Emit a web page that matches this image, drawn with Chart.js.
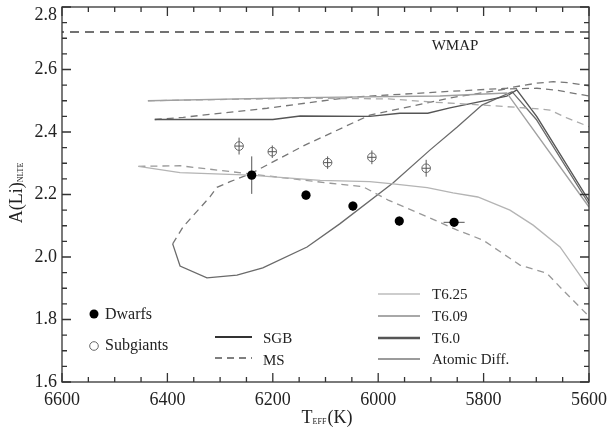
<!DOCTYPE html>
<html>
<head>
<meta charset="utf-8">
<script src="https://cdn.jsdelivr.net/npm/chart.js@4"></script>
<style>
  html, body { margin: 0; padding: 0; background: #fff; }
</style>
</head>
<body>
<canvas id="chart" width="607" height="429"></canvas>
<script>
// axis ranges and ticks
const xMin = 5600, xMax = 6600, xMajor = 200, xMinor = 50;
const yMin = 1.6, yMax = 2.8, yMajor = 0.2, yMinor = 0.05;

// WMAP primordial value
const wmapLevel = 2.72;

// observed stars
const dwarfT = [6240, 6137, 6048, 5960, 5856];
const dwarfA = [2.262, 2.198, 2.163, 2.115, 2.111];
const dwarfErrT = [0, 0, 0, 0, 20];
const dwarfErrA = [0.06, 0.015, 0.015, 0.015, 0];

const subT = [6264, 6201, 6096, 6012, 5909];
const subA = [2.355, 2.337, 2.302, 2.319, 2.284];
const subErrT = [8, 8, 8, 8, 8];
const subErrA = [0.027, 0.02, 0.02, 0.022, 0.027];

// models: SGB (solid) and MS (dashed)
const t625SgbT = [6455, 6376, 6243, 6110, 6016, 5972, 5907, 5858, 5811, 5750, 5706, 5655, 5600];
const t625SgbA = [2.290, 2.270, 2.262, 2.245, 2.241, 2.234, 2.222, 2.205, 2.192, 2.150, 2.102, 2.032, 1.900];
const t625MsT = [6455, 6376, 6243, 6091, 6029, 5981, 5902, 5850, 5801, 5731, 5680, 5650, 5600];
const t625MsA = [2.290, 2.292, 2.266, 2.236, 2.225, 2.182, 2.125, 2.086, 2.054, 1.974, 1.948, 1.895, 1.810];

const t609SgbT = [6437, 6148, 5883, 5756, 5600];
const t609SgbA = [2.500, 2.510, 2.515, 2.525, 2.160];
const t609MsT = [6437, 6148, 5980, 5900, 5800, 5756, 5693, 5674, 5642, 5600];
const t609MsA = [2.500, 2.508, 2.506, 2.496, 2.486, 2.481, 2.474, 2.470, 2.445, 2.417];

const t60SgbT = [6424, 6200, 6148, 6016, 5959, 5906, 5864, 5756, 5737, 5699, 5600];
const t60SgbA = [2.440, 2.440, 2.451, 2.450, 2.460, 2.460, 2.477, 2.515, 2.535, 2.449, 2.180];
const t60MsT = [6424, 6370, 6211, 6054, 5864, 5756, 5700, 5668, 5640, 5600];
const t60MsA = [2.440, 2.447, 2.476, 2.511, 2.530, 2.540, 2.556, 2.561, 2.558, 2.548];

const adSgbT = [6390, 6376, 6325, 6268, 6219, 6135, 6073, 5972, 5902, 5850, 5803, 5746, 5700, 5600];
const adSgbA = [2.042, 1.971, 1.933, 1.942, 1.965, 2.032, 2.106, 2.237, 2.342, 2.416, 2.486, 2.529, 2.440, 2.170];
const adMsT = [6390, 6370, 6319, 6306, 6281, 6243, 6139, 6016, 5940, 5864, 5756, 5699, 5662, 5600];
const adMsA = [2.042, 2.097, 2.193, 2.223, 2.241, 2.266, 2.358, 2.454, 2.481, 2.509, 2.538, 2.540, 2.534, 2.515];

const serif = '"Liberation Serif", "Times New Roman", serif';
const pts = (T, A) => T.map((t, i) => ({ x: t, y: A[i] }));

function modelLine(T, A, color, width, dashed) {
  return {
    data: pts(T, A), showLine: true, pointRadius: 0, borderColor: color,
    borderWidth: width, borderDash: dashed ? [7, 5] : [], fill: false, tension: 0
  };
}

// error bars, ticks, frame, legends and titles
function errBar(ctx, x, y, t, a, et, ea) {
  const px = x.getPixelForValue(t), py = y.getPixelForValue(a);
  ctx.beginPath();
  if (ea) { ctx.moveTo(px, y.getPixelForValue(a - ea)); ctx.lineTo(px, y.getPixelForValue(a + ea)); }
  if (et) { ctx.moveTo(x.getPixelForValue(t - et), py); ctx.lineTo(x.getPixelForValue(t + et), py); }
  ctx.stroke();
}

const decor = {
  id: 'decor',
  beforeDatasetsDraw(chart) {
    const { ctx, scales: { x, y } } = chart;
    ctx.save();
    ctx.strokeStyle = '#555';
    ctx.lineWidth = 1;
    dwarfT.forEach((t, i) => errBar(ctx, x, y, t, dwarfA[i], dwarfErrT[i], dwarfErrA[i]));
    subT.forEach((t, i) => errBar(ctx, x, y, t, subA[i], subErrT[i], subErrA[i]));
    ctx.restore();
  },
  afterDraw(chart) {
    const { ctx, chartArea: a, scales: { x, y } } = chart;
    ctx.save();
    // frame + inward ticks
    ctx.strokeStyle = '#333';
    ctx.lineWidth = 1.3;
    ctx.strokeRect(a.left, a.top, a.right - a.left, a.bottom - a.top);
    ctx.beginPath();
    const nx = Math.round((xMax - xMin) / xMinor);
    for (let i = 0; i <= nx; i++) {
      const v = xMin + i * xMinor;
      const len = (i % (xMajor / xMinor) === 0) ? 9 : 5;
      const px = x.getPixelForValue(v);
      ctx.moveTo(px, a.bottom); ctx.lineTo(px, a.bottom - len);
      ctx.moveTo(px, a.top); ctx.lineTo(px, a.top + len);
    }
    const ny = Math.round((yMax - yMin) / yMinor);
    for (let i = 0; i <= ny; i++) {
      const v = yMin + i * yMinor;
      const len = (i % Math.round(yMajor / yMinor) === 0) ? 9 : 5;
      const py = y.getPixelForValue(v);
      ctx.moveTo(a.left, py); ctx.lineTo(a.left + len, py);
      ctx.moveTo(a.right, py); ctx.lineTo(a.right - len, py);
    }
    ctx.stroke();

    ctx.fillStyle = '#222';
    ctx.textBaseline = 'middle';
    // WMAP label
    ctx.font = '15px ' + serif;
    ctx.textAlign = 'center';
    ctx.fillText('WMAP', 455, 46);
    ctx.textAlign = 'left';

    // star legend
    ctx.font = '16px ' + serif;
    ctx.beginPath(); ctx.arc(94, 314, 4.5, 0, Math.PI * 2); ctx.fillStyle = '#000'; ctx.fill();
    ctx.fillStyle = '#222';
    ctx.fillText('Dwarfs', 105, 315);
    ctx.beginPath(); ctx.arc(94, 346, 4.3, 0, Math.PI * 2);
    ctx.strokeStyle = '#666'; ctx.lineWidth = 1; ctx.stroke();
    ctx.fillText('Subgiants', 105, 346);

    // SGB / MS legend
    ctx.font = '15px ' + serif;
    ctx.strokeStyle = '#333'; ctx.lineWidth = 2;
    ctx.beginPath(); ctx.moveTo(215, 337); ctx.lineTo(252, 337); ctx.stroke();
    ctx.fillText('SGB', 263, 339);
    ctx.strokeStyle = '#555'; ctx.lineWidth = 1.3; ctx.setLineDash([7, 5]);
    ctx.beginPath(); ctx.moveTo(215, 358); ctx.lineTo(252, 358); ctx.stroke();
    ctx.setLineDash([]);
    ctx.fillText('MS', 263, 361);

    // model legend
    const models = [
      ['T6.25', '#bdbdbd', 1.3, 294],
      ['T6.09', '#a8a8a8', 2, 316],
      ['T6.0', '#555', 2.4, 338],
      ['Atomic Diff.', '#7a7a7a', 1.3, 359]
    ];
    models.forEach(([label, col, w, ly]) => {
      ctx.strokeStyle = col; ctx.lineWidth = w;
      ctx.beginPath(); ctx.moveTo(378, ly); ctx.lineTo(420, ly); ctx.stroke();
      ctx.fillText(label, 432, ly + 1.5);
    });

    // x title: T_EFF(K)
    ctx.textBaseline = 'alphabetic';
    const big = '18px ' + serif, small = '8px ' + serif;
    ctx.font = big; const wT = ctx.measureText('T').width, wK = ctx.measureText('(K)').width;
    ctx.font = small; const wE = ctx.measureText('EFF').width + 1;
    let sx = 327 - (wT + wE + wK) / 2;
    ctx.font = big; ctx.fillText('T', sx, 423);
    ctx.font = small; ctx.fillText('EFF', sx + wT, 424);
    ctx.font = big; ctx.fillText('(K)', sx + wT + wE, 423);

    // y title: A(Li)_NLTE
    ctx.translate(22, 193);
    ctx.rotate(-Math.PI / 2);
    ctx.font = big; const wA = ctx.measureText('A(Li)').width;
    ctx.font = small; const wN = ctx.measureText('NLTE').width;
    const s0 = -(wA + wN) / 2;
    ctx.font = big; ctx.fillText('A(Li)', s0, 0);
    ctx.font = small; ctx.fillText('NLTE', s0 + wA, 1);
    ctx.restore();
  }
};

new Chart(document.getElementById('chart').getContext('2d'), {
  type: 'scatter',
  data: {
    datasets: [
      { data: pts(dwarfT, dwarfA), pointRadius: 4.6, pointBackgroundColor: '#000', pointBorderColor: '#000', pointBorderWidth: 0 },
      { data: pts(subT, subA), pointRadius: 4.3, pointBackgroundColor: 'rgba(255,255,255,0)', pointBorderColor: '#666', pointBorderWidth: 1 },
      modelLine(t625SgbT, t625SgbA, '#b4b4b4', 1.3, false),
      modelLine(t625MsT, t625MsA, '#999', 1.3, true),
      modelLine(t609SgbT, t609SgbA, '#a0a0a0', 1.4, false),
      modelLine(t609MsT, t609MsA, '#aaa', 1.3, true),
      modelLine(t60SgbT, t60SgbA, '#555', 1.4, false),
      modelLine(t60MsT, t60MsA, '#777', 1.3, true),
      modelLine(adSgbT, adSgbA, '#6a6a6a', 1.3, false),
      modelLine(adMsT, adMsA, '#777', 1.3, true),
      { data: [{ x: xMin, y: wmapLevel }, { x: xMax, y: wmapLevel }], showLine: true, pointRadius: 0,
        borderColor: '#444', borderWidth: 1.3, borderDash: [9, 6] }
    ]
  },
  options: {
    responsive: false,
    animation: false,
    layout: { padding: { top: 7, right: 18, bottom: 0, left: 0 } },
    plugins: { legend: { display: false }, tooltip: { enabled: false } },
    scales: {
      x: {
        type: 'linear', reverse: true, min: xMin, max: xMax,
        grid: { display: false, drawTicks: false }, border: { display: false },
        ticks: { stepSize: xMajor, color: '#222', padding: 7, maxRotation: 0, autoSkip: false,
                 font: { family: serif, size: 18 }, callback: v => String(v) },
        afterFit(s) { s.height = 47; s.paddingLeft = 0; s.paddingRight = 0; }
      },
      y: {
        min: yMin, max: yMax,
        grid: { display: false, drawTicks: false }, border: { display: false },
        ticks: { stepSize: yMajor, color: '#222', padding: 5,
                 font: { family: serif, size: 18, lineHeight: 0.9 },
                 // the top label sits a little below its tick, as in the original
                 callback: v => Math.abs(v - yMax) < 1e-9 ? ['', v.toFixed(1)] : v.toFixed(1) },
        afterFit(s) { s.width = 62; s.paddingTop = 0; s.paddingBottom = 0; }
      }
    }
  },
  plugins: [decor]
});
</script>
</body>
</html>
